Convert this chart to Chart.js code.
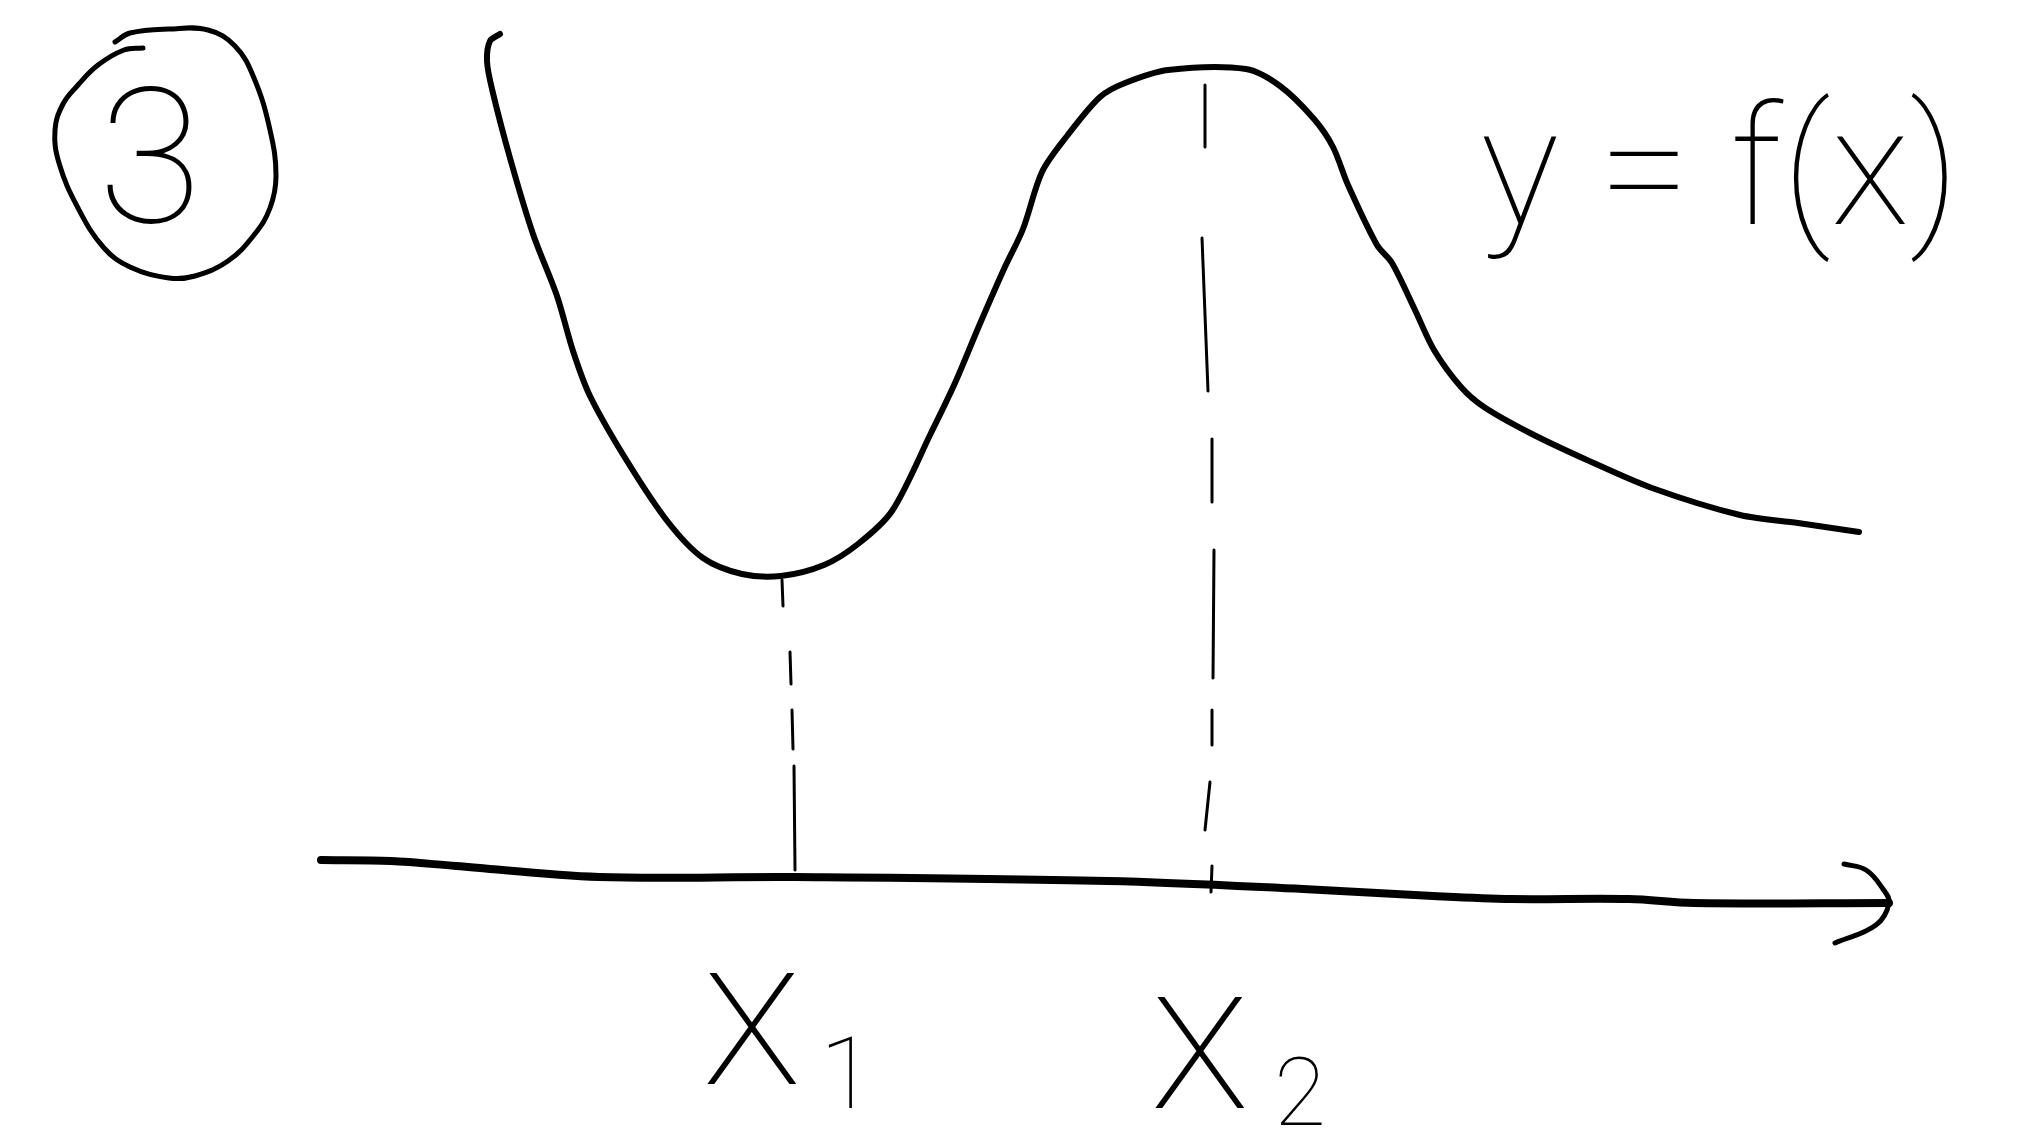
<!DOCTYPE html>
<html>
<head>
<meta charset="utf-8">
<script src="https://cdn.jsdelivr.net/npm/chart.js@4"></script>
<style>
  html, body { margin: 0; padding: 0; background: #fff; }
  #box { width: 2043px; height: 1138px; }
</style>
</head>
<body>
<div id="box"><canvas id="sketch" width="2043" height="1138"></canvas></div>
<script>
// curve y = f(x) (sketch units, y grows downward)
const curveX = [500, 490, 487, 492, 510, 533, 557, 573, 590, 627, 668, 703, 742, 781, 824, 858, 892, 931, 955, 979, 1004, 1023, 1042, 1067, 1100, 1125, 1168, 1246, 1280, 1314, 1333, 1348, 1377, 1392, 1415, 1434, 1461, 1484, 1530, 1587, 1652, 1740, 1798, 1859];
const curveY = [34, 41, 61, 89, 158, 234, 296, 351, 396, 461, 522, 558, 574, 576, 565, 544, 511, 433, 383, 326, 269, 229, 172, 136, 97, 83, 70, 69, 86, 119, 147, 185, 245, 263, 310, 350, 387, 407, 433, 460, 488, 515, 523, 532];

// horizontal axis (wobbly) and its arrow head
const axisX = [321, 391, 456, 599, 795, 1108, 1303, 1433, 1511, 1629, 1694, 1889];
const axisY = [860, 861, 866, 877, 877, 881, 889, 896, 899, 899, 903, 903];
const arrowX = [1844, 1866, 1883, 1889, 1876, 1835];
const arrowY = [864, 870, 889, 903, 925, 943];

// dashed drop lines (null = gap between dashes)
const drop1X = [782, 783, null, 790, 791, null, 792, 793, null, 794, 795];
const drop1Y = [580, 606, null, 652, 684, null, 710, 749, null, 766, 870];
const drop2X = [1205, 1205, null, 1202, 1208, null, 1212, 1212, null, 1214, 1213, null, 1212, 1212, null, 1210, 1205, null, 1212, 1211];
const drop2Y = [85, 147, null, 238, 391, null, 439, 502, null, 550, 678, null, 710, 745, null, 782, 830, null, 866, 892];

// circle around the number
const ringX = [115, 130, 169, 208, 235, 254, 270, 276, 270, 254, 228, 195, 169, 130, 104, 78, 59, 55, 63, 78, 98, 124, 143];
const ringY = [42, 33, 29, 30, 46, 78, 130, 176, 208, 235, 261, 276, 278, 267, 248, 208, 163, 130, 104, 85, 65, 50, 48];

// labels
const labelText = ['3', 'x', '1', 'x', '2', 'y = f(x)'];
const labelX = [150, 752, 847, 1200, 1300, 1720];
const labelY = [222, 1084, 1108, 1108, 1125, 224];
const labelSize = [190, 210, 100, 210, 95, 165];

const pts = (xs, ys) => xs.map((x, i) => ({ x: x, y: ys[i] }));

function stroke(data, width, tension) {
    return {
        data: data,
        borderColor: '#000',
        borderWidth: width,
        pointRadius: 0,
        tension: tension,
        spanGaps: false,
        fill: false,
        borderCapStyle: 'round',
        borderJoinStyle: 'round'
    };
}

// 画文字
const labelPlugin = {
    id: 'labels',
    afterDatasetsDraw(chart) {
        const ctx = chart.ctx;
        const xs = chart.scales.x, ys = chart.scales.y;
        ctx.save();
        ctx.fillStyle = '#000';
        ctx.textAlign = 'center';
        ctx.textBaseline = 'alphabetic';
        labelText.forEach((t, i) => {
            ctx.font = `100 ${labelSize[i]}px Roboto, "DejaVu Sans", sans-serif`;
            ctx.fillText(t, xs.getPixelForValue(labelX[i]), ys.getPixelForValue(labelY[i]));
        });
        ctx.restore();
    }
};

new Chart(document.getElementById('sketch'), {
    type: 'line',
    data: {
        datasets: [
            stroke(pts(curveX, curveY), 6, 0.3),
            stroke(pts(axisX, axisY), 8, 0.35),
            stroke(pts(arrowX, arrowY), 5, 0.4),
            stroke(pts(drop1X, drop1Y), 3, 0),
            stroke(pts(drop2X, drop2Y), 3, 0),
            stroke(pts(ringX, ringY), 5, 0.4)
        ]
    },
    options: {
        responsive: false,
        animation: false,
        layout: { padding: 0 },
        plugins: { legend: { display: false }, tooltip: { enabled: false } },
        scales: {
            x: { type: 'linear', min: 0, max: 2043, display: false },
            y: { type: 'linear', min: 0, max: 1138, reverse: true, display: false }
        }
    },
    plugins: [labelPlugin]
});
</script>
</body>
</html>
